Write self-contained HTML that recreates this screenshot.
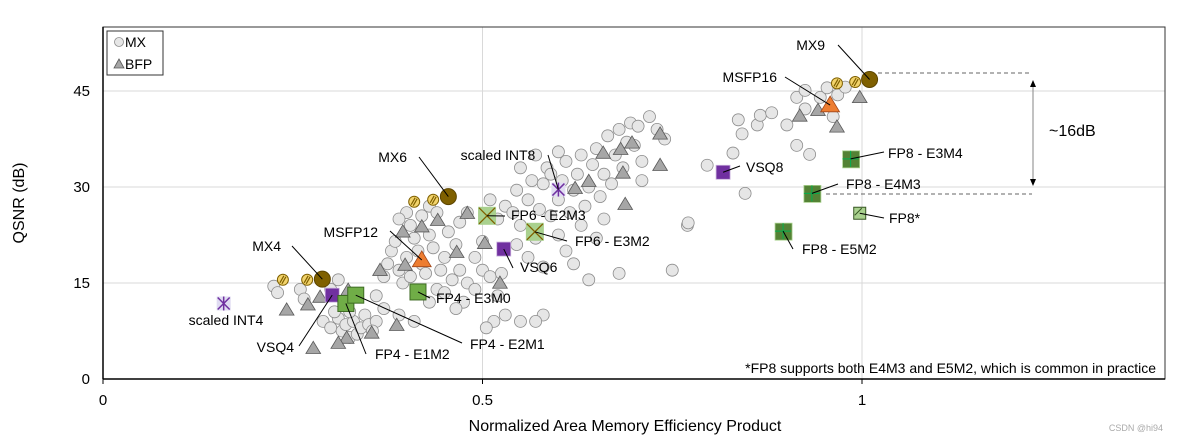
<!DOCTYPE html>
<html><head><meta charset="utf-8"><style>
body{margin:0;background:#fff;font-family:"Liberation Sans",Arial,sans-serif}
svg text{font-family:"Liberation Sans",Arial,sans-serif}
</style></head><body>
<svg id="chart" width="1178" height="441" xmlns="http://www.w3.org/2000/svg"></svg>
<script>
const xTicks=[0,0.5,1];
const xTickLabels=["0","0.5","1"];
const yTicks=[0,15,30,45];
const yTickLabels=["0","15","30","45"];
const mxX=[0.225,0.23,0.26,0.265,0.3,0.31,0.29,0.3,0.31,0.315,0.32,0.325,0.33,0.335,0.34,0.345,0.35,0.36,0.305,0.325,0.355,0.37,0.375,0.38,0.385,0.39,0.395,0.4,0.405,0.41,0.415,0.42,0.425,0.43,0.435,0.44,0.445,0.45,0.455,0.46,0.465,0.47,0.475,0.48,0.4,0.42,0.43,0.44,0.39,0.405,0.47,0.48,0.36,0.37,0.39,0.41,0.43,0.45,0.465,0.49,0.5,0.51,0.52,0.525,0.53,0.515,0.505,0.55,0.58,0.57,0.49,0.5,0.51,0.52,0.53,0.54,0.545,0.55,0.56,0.565,0.57,0.575,0.58,0.585,0.59,0.6,0.605,0.61,0.615,0.62,0.625,0.63,0.635,0.64,0.645,0.65,0.655,0.66,0.665,0.67,0.675,0.68,0.685,0.69,0.695,0.7,0.705,0.71,0.72,0.73,0.74,0.71,0.66,0.65,0.63,0.61,0.58,0.56,0.545,0.68,0.77,0.75,0.6,0.62,0.64,0.55,0.57,0.59,0.6,0.796,0.83,0.842,0.837,0.862,0.866,0.881,0.901,0.914,0.925,0.925,0.945,0.954,0.962,0.968,0.978,0.914,0.931,0.846,0.771];
const mxY=[14.5,13.5,14,12.5,14,15.5,9,8,9.5,7.5,8.5,6.5,9,7,8,10,8.5,9,10.5,10.5,7.5,16,18,20,21.5,17,15,19,16,22,20,18,16.5,22.5,20.5,14,17,19,23,15.5,21,17,12,15,26,25.5,27,26,25,24,24.5,26,13,11,10,9,12,13.5,11,14,17,16,13,16.5,10,9,8,9,10,9,19,21.5,28,25,27,26,29.5,24,28,31,22,26.5,30.5,33,25.5,28,31,34,26,29.5,32,35,27,30,33.5,36,28.5,32,38,30.5,35,39,33,37,40,36.5,39.5,34,41,39,37.5,31,25,22,24,20,17.5,19,21,16.5,24,17,22.5,18,15.5,33,35,32,35.5,33.4,35.3,38.3,40.5,39.7,41.2,41.6,39.7,44,45.1,42.2,44,45.5,41,44.4,45.6,36.5,35.1,29,24.4];
const bfpX=[0.48,0.441,0.42,0.395,0.466,0.398,0.365,0.503,0.523,0.323,0.286,0.27,0.242,0.354,0.321,0.31,0.277,0.387,0.622,0.64,0.659,0.682,0.697,0.734,0.734,0.685,0.688,0.918,0.942,0.967,0.997];
const bfpY=[25.9,24.8,23.8,23,19.8,17.8,17,21.2,15,13.9,12.8,11.6,10.8,7.2,6.4,5.6,4.8,8.4,29.8,30.9,35.3,35.9,36.9,38.3,33.4,32.2,27.3,41.1,42,39.4,44];
const mxSmallX=[0.237,0.269,0.41,0.435,0.967,0.991];
const mxSmallY=[15.5,15.5,27.7,28,46.2,46.4];
const mxBigNames=["MX4","MX6","MX9"];
const mxBigX=[0.289,0.455,1.01];
const mxBigY=[15.6,28.5,46.8];
const msfpNames=["MSFP12","MSFP16"];
const msfpX=[0.42,0.958];
const msfpY=[18.6,42.8];
const vsqNames=["VSQ4","VSQ6","VSQ8"];
const vsqX=[0.302,0.528,0.817];
const vsqY=[13.1,20.3,32.3];
const intNames=["scaled INT4","scaled INT8"];
const intX=[0.159,0.6];
const intY=[11.8,29.6];
const fp4Names=["FP4 - E3M0","FP4 - E1M2","FP4 - E2M1"];
const fp4X=[0.415,0.32,0.333];
const fp4Y=[13.6,11.8,13.1];
const fp6Names=["FP6 - E2M3","FP6 - E3M2"];
const fp6X=[0.506,0.569];
const fp6Y=[25.5,23];
const fp8Names=["FP8 - E3M4","FP8 - E4M3","FP8 - E5M2","FP8*"];
const fp8X=[0.985,0.934,0.896,0.997];
const fp8Y=[34.4,29,23.1,25.9];

const L=103,R=1165,T=27,B=379;
const xs=v=>L+v*759;
const ys=v=>B-v*6.4;
const svg=document.getElementById('chart');
const NS='http://www.w3.org/2000/svg';
function mk(tag,attrs,parent){const e=document.createElementNS(NS,tag);for(const k in attrs)e.setAttribute(k,attrs[k]);(parent||svg).appendChild(e);return e;}
function txt(x,y,s,anchor,size,fill){const t=mk('text',{x:x,y:y,'font-size':size||15,'text-anchor':anchor||'start',fill:fill||'#000'});t.textContent=s;return t;}

for(let i=1;i<xTicks.length;i++){const g=mk('line',{x1:xs(xTicks[i]),x2:xs(xTicks[i]),y1:T,y2:B,stroke:'#d9d9d9','stroke-width':1});

}
for(let i=1;i<yTicks.length;i++){const g=mk('line',{x1:L,x2:R,y1:ys(yTicks[i]),y2:ys(yTicks[i]),stroke:'#d9d9d9','stroke-width':1});

}
const frame=mk('rect',{x:L,y:T,width:R-L,height:B-T,fill:'none',stroke:'#333','stroke-width':1});


const yaxis=mk('line',{x1:L,x2:L,y1:T,y2:B,stroke:'#000','stroke-width':1.5});


const xaxis=mk('line',{x1:L,x2:R,y1:B,y2:B,stroke:'#000','stroke-width':1.5});


xTicks.forEach((v,i)=>{mk('line',{x1:xs(v),x2:xs(v),y1:B,y2:B+5,stroke:'#000','stroke-width':1});
const t=txt(xs(v),405,xTickLabels[i],'middle',15);

});
yTicks.forEach((v,i)=>{const t=txt(90,ys(v)+5,yTickLabels[i],'end',15);

});
const xt=txt(625,431,'Normalized Area Memory Efficiency Product','middle',16);


const yt=txt(0,0,'QSNR (dB)','middle',16);
yt.setAttribute('transform','translate(24,203) rotate(-90)');



mxX.forEach((v,i)=>{const c=mk('circle',{cx:xs(v),cy:ys(mxY[i]),r:6,fill:'#e6e6e6',stroke:'#8c8c8c','stroke-width':0.8});

});
function tri(x,y,s,fill,stroke){return mk('polygon',{points:`${x},${y-s} ${x-s*1.05},${y+s*0.75} ${x+s*1.05},${y+s*0.75}`,fill:fill,stroke:stroke,'stroke-width':0.8});}
bfpX.forEach((v,i)=>{const p=tri(xs(v),ys(bfpY[i]),7,'#a6a6a6','#595959');

});

mxSmallX.forEach((v,i)=>{const x=xs(v),y=ys(mxSmallY[i]);
const c=mk('circle',{cx:x,cy:y,r:5.5,fill:'#f2d36b',stroke:'#7f6000','stroke-width':1});


mk('line',{x1:x-3,y1:y+3,x2:x+1,y2:y-4,stroke:'#7f6000','stroke-width':1.2});
mk('line',{x1:x-1,y1:y+4,x2:x+3,y2:y-3,stroke:'#7f6000','stroke-width':1.2});});
mxBigX.forEach((v,i)=>{const c=mk('circle',{cx:xs(v),cy:ys(mxBigY[i]),r:8,fill:'#7f6000',stroke:'#5c4500','stroke-width':1});

});
msfpX.forEach((v,i)=>{const p=tri(xs(v),ys(msfpY[i]),9,'#ed7d31','#a0461a');

});
vsqX.forEach((v,i)=>{const r=mk('rect',{x:xs(v)-7,y:ys(vsqY[i])-7,width:14,height:14,fill:'#7030a0',stroke:'#c9b0dc','stroke-width':0.8});

});
intX.forEach((v,i)=>{const x=xs(v),y=ys(intY[i]);
const r=mk('rect',{x:x-7,y:y-7,width:14,height:14,fill:'#e0dcf2'});


mk('line',{x1:x-6,y1:y-6,x2:x+6,y2:y+6,stroke:'#7030a0','stroke-width':1.5});
mk('line',{x1:x+6,y1:y-6,x2:x-6,y2:y+6,stroke:'#7030a0','stroke-width':1.5});
mk('line',{x1:x,y1:y-7,x2:x,y2:y+7,stroke:'#7030a0','stroke-width':1.5});});
fp4X.forEach((v,i)=>{const r=mk('rect',{x:xs(v)-8,y:ys(fp4Y[i])-8,width:16,height:16,fill:'#70ad47',stroke:'#3d6b22','stroke-width':1});

});
fp6X.forEach((v,i)=>{const x=xs(v),y=ys(fp6Y[i]);
const r=mk('rect',{x:x-9,y:y-9,width:18,height:18,fill:'#a9d18e'});


mk('line',{x1:x-8,y1:y-8,x2:x+8,y2:y+8,stroke:'#7f6000','stroke-width':1.3});
mk('line',{x1:x+8,y1:y-8,x2:x-8,y2:y+8,stroke:'#7f6000','stroke-width':1.3});});
fp8X.forEach((v,i)=>{const x=xs(v),y=ys(fp8Y[i]);
if(i===3){const r=mk('rect',{x:x-6,y:y-6,width:12,height:12,fill:'#a9d18e',stroke:'#375623','stroke-width':1});


mk('line',{x1:x-5,y1:y+2,x2:x+2,y2:y-5,stroke:'#375623','stroke-width':1});return;}
const r=mk('rect',{x:x-8,y:y-8,width:17,height:17,fill:'#548235',stroke:'#a9d18e','stroke-width':0.8});


mk('line',{x1:x,y1:y-8,x2:x,y2:y+8,stroke:'#00b050','stroke-width':1});
mk('line',{x1:x-8,y1:y,x2:x+8,y2:y,stroke:'#00b050','stroke-width':1});});

function lab(s,tx,ty,anchor,lx,ly,px,py){
if(lx!==null){const l=mk('line',{x1:lx,y1:ly,x2:px,y2:py,stroke:'#000','stroke-width':1});

}
const t=txt(tx,ty,s,anchor,14);

}
lab(mxBigNames[0],281,251,'end',292,246,xs(mxBigX[0]),ys(mxBigY[0]));
lab(mxBigNames[1],407,162,'end',419,157,xs(mxBigX[1]),ys(mxBigY[1]));
lab(mxBigNames[2],825,50,'end',838,45,xs(mxBigX[2]),ys(mxBigY[2]));
lab(msfpNames[0],378,237,'end',390,231,xs(msfpX[0]),ys(msfpY[0]));
lab(msfpNames[1],777,82,'end',785,77,xs(msfpX[1]),ys(msfpY[1]));
lab(vsqNames[0],294,352,'end',299,346,xs(vsqX[0]),ys(vsqY[0]));
lab(vsqNames[1],520,272,'start',513,268,xs(vsqX[1]),ys(vsqY[1]));
lab(vsqNames[2],746,172,'start',740,166,xs(vsqX[2]),ys(vsqY[2]));
lab(intNames[0],226,325,'middle',null,null,0,0);
lab(intNames[1],498,160,'middle',548,155,xs(intX[1]),ys(intY[1]));
lab(fp4Names[0],436,303,'start',430,298,xs(fp4X[0]),ys(fp4Y[0]));
lab(fp4Names[1],375,359,'start',366,354,xs(fp4X[1]),ys(fp4Y[1]));
lab(fp4Names[2],470,349,'start',462,343,xs(fp4X[2]),ys(fp4Y[2]));
lab(fp6Names[0],511,220,'start',505,216,xs(fp6X[0]),ys(fp6Y[0]));
lab(fp6Names[1],575,246,'start',567,241,xs(fp6X[1]),ys(fp6Y[1]));
lab(fp8Names[0],888,158,'start',884,152,xs(fp8X[0]),ys(fp8Y[0]));
lab(fp8Names[1],846,189,'start',838,184,xs(fp8X[1]),ys(fp8Y[1]));
lab(fp8Names[2],802,254,'start',793,249,xs(fp8X[2]),ys(fp8Y[2]));
lab(fp8Names[3],889,223,'start',884,218,xs(fp8X[3]),ys(fp8Y[3]));

mk('line',{x1:878,y1:73,x2:1032,y2:73,stroke:'#666','stroke-width':1,'stroke-dasharray':'4,3'});
mk('line',{x1:826,y1:194,x2:1032,y2:194,stroke:'#666','stroke-width':1,'stroke-dasharray':'4,3'});
const ar=mk('line',{x1:1033,y1:82,x2:1033,y2:184,stroke:'#999','stroke-width':1.2});


mk('polygon',{points:'1033,80 1030,87 1036,87',fill:'#000'});
mk('polygon',{points:'1033,186 1030,179 1036,179',fill:'#000'});
const d=txt(1049,136,'~16dB','start',16);



const fn=txt(1156,373,'*FP8 supports both E4M3 and E5M2, which is common in practice','end',14);



const lg=mk('g',{});


mk('rect',{x:107,y:31,width:56,height:44,fill:'#fff',stroke:'#333','stroke-width':1},lg);
const le1=mk('g',{},lg);


mk('circle',{cx:119,cy:42,r:4.5,fill:'#e6e6e6',stroke:'#8c8c8c','stroke-width':0.8},le1);
le1.appendChild(txt(125,47,'MX','start',14));
const le2=mk('g',{},lg);


mk('polygon',{points:'119,59 114,68 124,68',fill:'#a6a6a6',stroke:'#595959','stroke-width':0.8},le2);
le2.appendChild(txt(125,69,'BFP','start',14));

const wm=txt(1163,431,'CSDN @hi94','end',9,'#aaa');


</script>
</body></html>
